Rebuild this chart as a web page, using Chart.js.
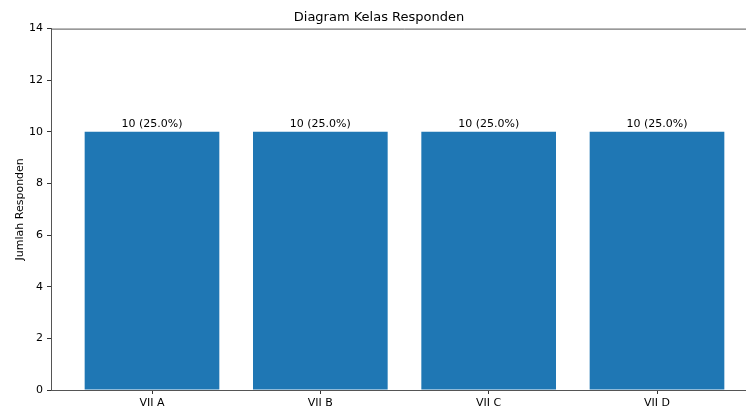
<!DOCTYPE html>
<html>
<head>
<meta charset="utf-8">
<script src="https://cdn.jsdelivr.net/npm/chart.js@4"></script>
<style>
  html, body { margin: 0; padding: 0; overflow: hidden; background: #fff; }
  #wrap { width: 760px; height: 408px; }
</style>
</head>
<body>
<div id="wrap"><canvas id="kelas" width="760" height="408"></canvas></div>
<script>
var kelas = ["VII A", "VII B", "VII C", "VII D"];
var jumlah = [10, 10, 10, 10];
var yTicks = [0, 2, 4, 6, 8, 10, 12, 14];

var total = jumlah.reduce(function (a, b) { return a + b; }, 0);
var fontFam = "'DejaVu Sans', sans-serif";
var points = jumlah.map(function (v, i) { return { x: i, y: v }; });

// label above each bar + top spine
var barLabels = {
  id: 'barLabels',
  afterDatasetsDraw: function (chart) {
    var ctx = chart.ctx;
    var meta = chart.getDatasetMeta(0);
    ctx.save();
    ctx.fillStyle = '#000';
    ctx.font = '11px ' + fontFam;
    ctx.textAlign = 'center';
    ctx.textBaseline = 'bottom';
    meta.data.forEach(function (bar, i) {
      var v = jumlah[i];
      var pct = (v / total * 100).toFixed(1);
      ctx.fillText(v + ' (' + pct + '%)', bar.x, bar.y - 2);
    });
    var a = chart.chartArea;
    ctx.strokeStyle = '#555';
    ctx.lineWidth = 1;
    ctx.beginPath();
    ctx.moveTo(a.left, a.top + 0.5);
    ctx.lineTo(a.right, a.top + 0.5);
    ctx.stroke();
    ctx.restore();
  }
};

new Chart(document.getElementById('kelas'), {
  type: 'bar',
  data: {
    datasets: [{
      label: 'Jumlah Responden',
      data: points,
      backgroundColor: '#1f77b4',
      categoryPercentage: 1,
      barPercentage: 0.8
    }]
  },
  options: {
    responsive: false,
    animation: false,
    layout: { padding: { left: 0, right: 2, top: 0, bottom: 0 } },
    plugins: {
      legend: { display: false },
      tooltip: { enabled: false },
      title: {
        display: true,
        text: 'Diagram Kelas Responden',
        color: '#000',
        font: { family: fontFam, size: 13, weight: 'normal' },
        padding: { top: 10, bottom: 3 }
      }
    },
    scales: {
      x: {
        type: 'linear',
        min: -0.6,
        max: 3.6,
        offset: false,
        afterBuildTicks: function (axis) {
          axis.ticks = kelas.map(function (k, i) { return { value: i }; });
        },
        afterFit: function (axis) { axis.height = 18; },
        grid: { display: true, offset: false, drawOnChartArea: false, tickLength: 4, color: '#333' },
        border: { color: '#555', width: 1 },
        ticks: {
          color: '#000',
          font: { family: fontFam, size: 11 },
          padding: 3,
          callback: function (v) { return kelas[v]; }
        }
      },
      y: {
        min: 0,
        max: 14,
        afterBuildTicks: function (axis) {
          axis.ticks = yTicks.map(function (v) { return { value: v }; });
        },
        afterFit: function (axis) { axis.width = 51; },
        grid: { display: true, drawOnChartArea: false, tickLength: 4, color: '#333' },
        border: { color: '#555', width: 1 },
        ticks: { color: '#000', font: { family: fontFam, size: 11 }, padding: 4 },
        title: {
          display: true,
          text: 'Jumlah Responden',
          color: '#000',
          font: { family: fontFam, size: 11 },
          padding: { top: 14, bottom: 0 }
        }
      }
    }
  },
  plugins: [barLabels]
});
</script>
</body>
</html>
